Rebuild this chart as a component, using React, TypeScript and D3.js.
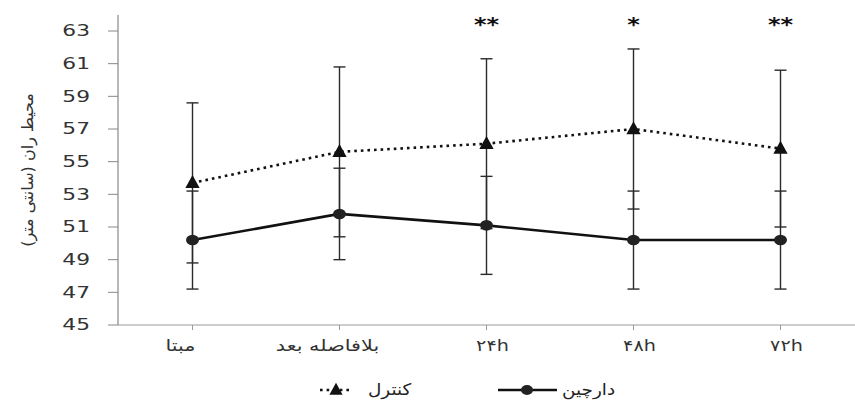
import React from "react";
import * as d3 from "d3";

const categories = ["مبتا", "بلافاصله بعد", "۲۴h", "۴۸h", "۷۲h"];
const cinnamonMean = [50.2, 51.8, 51.1, 50.2, 50.2];
const cinnamonSd = [3.0, 2.8, 3.0, 3.0, 3.0];
const controlMean = [53.7, 55.6, 56.1, 57.0, 55.8];
const controlSd = [4.9, 5.2, 5.2, 4.9, 4.8];
const stars = ["", "", "**", "*", "**"];
const yTicks = [45, 47, 49, 51, 53, 55, 57, 59, 61, 63];
const yTitle = "محیط ران (سانتی متر)";
const seriesNames = ["دارچین", "کنترل"];

const W = 855;
const H = 401;
const FONT = "DejaVu Sans";

// the source picture is stretched sideways, so text gets a horizontal scale
const T = ({ x, y, sx = 1, anchor = "middle", size = 15, fill = "#333", weight = "normal", children }) => (
  <text
    transform={`translate(${x},${y}) scale(${sx},1)`}
    textAnchor={anchor}
    dy="0.35em"
    fontFamily={FONT}
    fontSize={size}
    fontWeight={weight}
    fill={fill}
  >
    {children}
  </text>
);

const App = () => {
  const x = d3.scaleBand().domain(categories).range([119, 854]);
  const y = d3.scaleLinear().domain([45, 63]).range([325, 31]);
  const cx = (c) => x(c) + x.bandwidth() / 2;

  const line = d3
    .line()
    .x((d) => cx(d.c))
    .y((d) => y(d.v));

  const cin = categories.map((c, i) => ({ c, v: cinnamonMean[i], sd: cinnamonSd[i] }));
  const ctl = categories.map((c, i) => ({ c, v: controlMean[i], sd: controlSd[i] }));

  const errBar = (d, key) => {
    const xc = cx(d.c);
    const y1 = y(d.v + d.sd);
    const y2 = y(d.v - d.sd);
    return (
      <g key={key} stroke="#2a2a2a" strokeWidth={1.4}>
        <line x1={xc} x2={xc} y1={y1} y2={y2} />
        <line x1={xc - 6} x2={xc + 6} y1={y1} y2={y1} />
        <line x1={xc - 6} x2={xc + 6} y1={y2} y2={y2} />
      </g>
    );
  };

  const tri = (xc, yc, s) =>
    `M${xc},${yc - s * 0.6}L${xc + s * 0.55},${yc + s * 0.4}L${xc - s * 0.55},${yc + s * 0.4}Z`;

  return (
    <svg
      width={W}
      height={H}
      style={{ position: "absolute", left: 0, top: 0, background: "#fff" }}
    >
      {/* y axis */}
      <line x1={118} x2={118} y1={15} y2={325} stroke="#888" strokeWidth={1.2} />
      {yTicks.map((t) => (
        <g key={t}>
          <line x1={108} x2={118} y1={y(t)} y2={y(t)} stroke="#888" strokeWidth={1} />
          <T x={90} y={y(t)} sx={1.45} anchor="end" size={15}>
            {t}
          </T>
        </g>
      ))}
      <text
        transform={`translate(27,${(y(45) + y(63)) / 2 - 8}) rotate(-90)`}
        textAnchor="middle"
        dy="0.35em"
        fontFamily={FONT}
        fontSize={16}
        fill="#333"
      >
        {yTitle}
      </text>

      {/* x axis */}
      <line x1={118} x2={855} y1={325} y2={325} stroke="#999" strokeWidth={1.2} />
      {categories.map((c, i) => (
        <g key={c}>
          <line x1={cx(c)} x2={cx(c)} y1={325} y2={330} stroke="#999" strokeWidth={1} />
          <T x={cx(c) + (i < 2 ? -12 : 6)} y={345} sx={i < 2 ? 1.3 : 1.2} size={16}>
            {c}
          </T>
        </g>
      ))}

      {/* error bars */}
      {ctl.map((d, i) => errBar(d, "ctl" + i))}
      {cin.map((d, i) => errBar(d, "cin" + i))}

      {/* lines */}
      <path d={line(ctl)} fill="none" stroke="#111" strokeWidth={2.6} strokeDasharray="2.6,4" />
      <path d={line(cin)} fill="none" stroke="#111" strokeWidth={2.6} />

      {/* markers */}
      {ctl.map((d, i) => (
        <path key={"t" + i} d={tri(cx(d.c), y(d.v), 13)} fill="#111" />
      ))}
      {cin.map((d, i) => (
        <ellipse key={"e" + i} cx={cx(d.c)} cy={y(d.v)} rx={6.5} ry={5.3} fill="#222" />
      ))}

      {/* significance */}
      {categories.map((c, i) => (
        <T key={"s" + i} x={cx(c)} y={24} sx={1.2} size={20} weight="bold" fill="#111">
          {stars[i]}
        </T>
      ))}

      {/* legend */}
      <g>
        <line x1={320} x2={352} y1={390} y2={390} stroke="#111" strokeWidth={2.6} strokeDasharray="2.6,4" />
        <path d={tri(336, 390, 12)} fill="#111" />
        <T x={368} y={389} sx={1.15} anchor="start" size={16} fill="#222">
          {seriesNames[1]}
        </T>
        <line x1={498} x2={557} y1={390} y2={390} stroke="#111" strokeWidth={2.6} />
        <ellipse cx={527} cy={390} rx={6} ry={5} fill="#222" />
        <T x={562} y={389} sx={1.15} anchor="start" size={16} fill="#222">
          {seriesNames[0]}
        </T>
      </g>
    </svg>
  );
};

export default App;
